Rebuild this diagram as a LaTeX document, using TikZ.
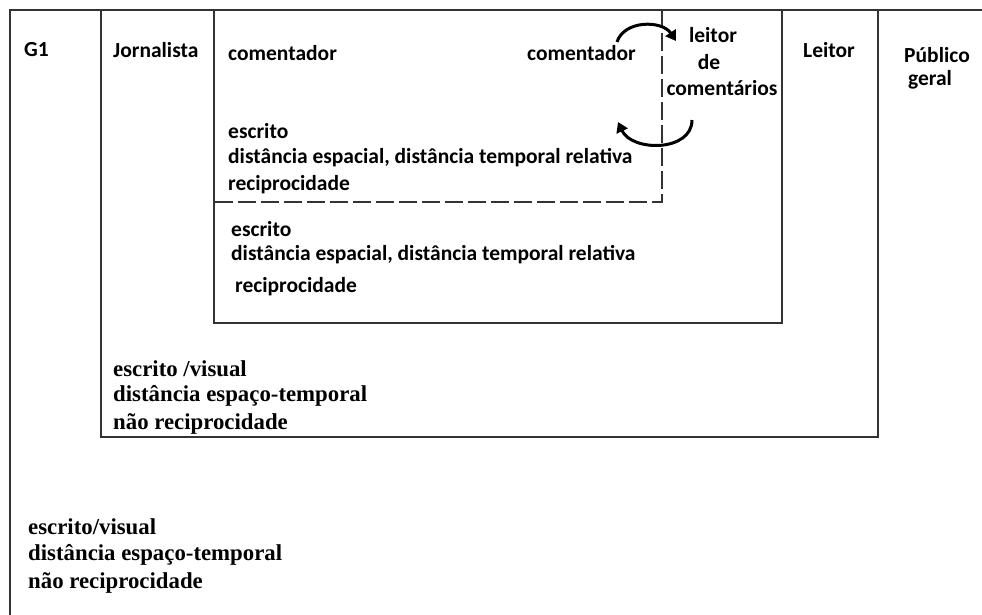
\documentclass[tikz,border=0pt]{standalone}
\usepackage{fontspec}
\setmainfont{Carlito}
\newfontfamily\timesf{Liberation Serif}
\usetikzlibrary{arrows.meta}
\begin{document}
\begin{tikzpicture}[x=1pt,y=-1pt,
  boxline/.style={draw=black!80,line width=1.3pt},
  dashline/.style={draw=black!80,line width=1.3pt,dash pattern=on 18pt off 5pt},
  lbl/.style={inner sep=0pt,anchor=west,font=\bfseries\fontsize{21.5}{24}\selectfont},
  ctr/.style={inner sep=0pt,anchor=center,font=\bfseries\fontsize{21.5}{24}\selectfont},
  tms/.style={inner sep=0pt,anchor=west,font=\timesf\bfseries\fontsize{22.8}{26}\selectfont},
  curvearrow/.style={line width=3pt,-{Triangle[length=10pt,width=12pt]}}]
\useasboundingbox (0,0) rectangle (982,615);
% outer frame (open to the right and bottom)
\draw[boxline] (10,615) -- (10,10) -- (982,10);
% boxes
\draw[boxline] (101,10) rectangle (878,437);
\draw[boxline] (214,10) rectangle (782,323);
% dashed region
\draw[dashline] (662,10) -- (662,202) -- (212,202);
% labels
\node[lbl] (g1) at (24,50) {G1};
\node[lbl] (jorn) at (113,50) {Jornalista};
\node[lbl] (com1) at (228,53) {comentador};
\node[lbl,anchor=east] (com2) at (636,53) {comentador};
\node[ctr] (le1) at (713,35) {leitor};
\node[ctr] (le2) at (709,62) {de};
\node[ctr] (le3) at (722,88) {comentários};
\node[lbl] (leitor) at (803,50) {Leitor};
\node[ctr] (pub1) at (937,55) {Público};
\node[ctr] (pub2) at (930,80) {geral};
% upper block
\node[lbl] (u1) at (228,131) {escrito};
\node[lbl] (u2) at (228,158) {distância espacial, distância temporal relativa};
\node[lbl] (u3) at (228,185) {reciprocidade};
% lower block
\node[lbl] (l1) at (231,229) {escrito};
\node[lbl] (l2) at (231,255) {distância espacial, distância temporal relativa};
\node[lbl] (l3) at (235,287) {reciprocidade};
% serif blocks
\node[tms] (m1) at (113,369) {escrito /visual};
\node[tms] (m2) at (113,396) {distância espaço-temporal};
\node[tms] (m3) at (113,424) {não reciprocidade};
\node[tms] (b1) at (28,527) {escrito/visual};
\node[tms] (b2) at (28,555) {distância espaço-temporal};
\node[tms] (b3) at (28,583) {não reciprocidade};
% curved arrows
\coordinate (a1s) at (617,42);
\coordinate (a1e) at (676,41);
\coordinate (a2s) at (692,120);
\coordinate (a2e) at (618,122);
\draw[curvearrow] (a1s) .. controls (624,20) and (662,20) .. (a1e);
\draw[curvearrow] (a2s) .. controls (692,152) and (632,152) .. (a2e);
\end{tikzpicture}
\end{document}
